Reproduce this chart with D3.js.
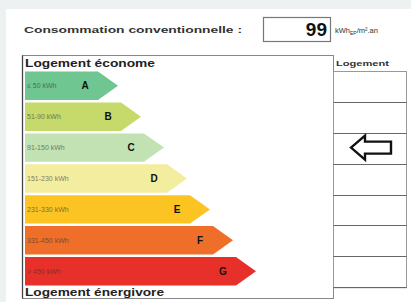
<!DOCTYPE html>
<meta charset="utf-8">
<script src="https://d3js.org/d3.v7.min.js"></script>
<style>
  body { margin: 0; background: #eef1f2; }
  text { font-family: "Liberation Sans", Arial, sans-serif; }
</style>
<div id="chart"></div>
<script>
// energy classes (DPE)
var classes = ["A", "B", "C", "D", "E", "F", "G"];
var ranges = ["≤ 50 kWh", "51-90 kWh", "91-150 kWh", "151-230 kWh", "231-330 kWh", "331-450 kWh", "> 450 kWh"];
var colors = ["#6fc691", "#c6da6c", "#c2e2b4", "#f3eda0", "#fcc423", "#ee6e2a", "#e8302a"];
var thresholds = [50, 90, 150, 230, 330, 450];
var value = 99;

var W = 411, H = 302;
var svg = d3.select("#chart").append("svg")
    .attr("width", W).attr("height", H);

// white sheet
svg.append("rect").attr("x", 6).attr("y", 9).attr("width", W - 6).attr("height", H - 9).attr("fill", "#fff");

// header
svg.append("text").attr("x", 24).attr("y", 33)
    .attr("font-size", 9).attr("font-weight", "bold").attr("fill", "#333")
    .attr("textLength", 218).attr("lengthAdjust", "spacingAndGlyphs")
    .text("Consommation conventionnelle :");
svg.append("rect").attr("x", 263.5).attr("y", 17.5).attr("width", 67).attr("height", 24)
    .attr("fill", "#fff").attr("stroke", "#777").attr("stroke-width", 1.2);
svg.append("text").attr("x", 327).attr("y", 36).attr("text-anchor", "end")
    .attr("font-size", 19).attr("font-weight", "bold").attr("fill", "#111")
    .text(value);
var unit = svg.append("text").attr("x", 335).attr("y", 33).attr("font-size", 7.5).attr("fill", "#333");
unit.append("tspan").text("kWh");
unit.append("tspan").attr("font-size", 5).attr("dy", 2).text("EP");
unit.append("tspan").attr("dy", -2).text("/m².an");

// main box
svg.append("rect").attr("x", 22.5).attr("y", 55.5).attr("width", 311).attr("height", 243)
    .attr("fill", "none").attr("stroke", "#888");
svg.append("line").attr("x1", 22.5).attr("x2", 22.5).attr("y1", 55.5).attr("y2", 298.5)
    .attr("stroke", "#444").attr("stroke-width", 1.3);

svg.append("text").attr("x", 25).attr("y", 67)
    .attr("font-size", 11).attr("font-weight", "bold").attr("fill", "#222")
    .attr("textLength", 130).attr("lengthAdjust", "spacingAndGlyphs")
    .text("Logement économe");
svg.append("text").attr("x", 25).attr("y", 296)
    .attr("font-size", 11).attr("font-weight", "bold").attr("fill", "#222")
    .attr("textLength", 139).attr("lengthAdjust", "spacingAndGlyphs")
    .text("Logement énergivore");

// scales
var y = d3.scaleBand().domain(classes).range([71, 286]).paddingInner(0.08).paddingOuter(0.02);
var tip = d3.scaleLinear().domain([0, classes.length - 1]).range([118, 256]);
var point = 20;

var bars = svg.append("g").selectAll("g")
  .data(classes)
  .join("g");

bars.append("path")
    .attr("fill", (d, i) => colors[i])
    .attr("d", function(d, i) {
      var x0 = 25, y0 = y(d), h = y.bandwidth(), xt = tip(i);
      return "M" + x0 + "," + y0 + "H" + (xt - point) + "L" + xt + "," + (y0 + h / 2) +
             "L" + (xt - point) + "," + (y0 + h) + "H" + x0 + "Z";
    });

bars.append("text")
    .attr("x", 27).attr("y", d => y(d) + y.bandwidth() / 2 + 2.5)
    .attr("font-size", 7).attr("fill", "#333").attr("opacity", 0.6)
    .text((d, i) => ranges[i]);

bars.append("text")
    .attr("x", (d, i) => tip(i) - 33).attr("y", d => y(d) + y.bandwidth() / 2 + 3.5)
    .attr("text-anchor", "middle")
    .attr("font-size", 10).attr("font-weight", "bold").attr("fill", "#111")
    .text(d => d);

// right column
svg.append("text").attr("x", 336).attr("y", 66)
    .attr("font-size", 7).attr("font-weight", "bold").attr("fill", "#333")
    .attr("textLength", 53).attr("lengthAdjust", "spacingAndGlyphs")
    .text("Logement");

var top0 = y.range()[0], step = y.step();
svg.append("rect").attr("x", 333.5).attr("y", top0 + 0.5).attr("width", 73).attr("height", step * classes.length)
    .attr("fill", "none").attr("stroke", "#999");
svg.append("g").selectAll("line")
  .data(d3.range(1, classes.length + 1))
  .join("line")
    .attr("x1", 333.5).attr("x2", 406.5)
    .attr("y1", i => Math.round(top0 + i * step) + 0.5)
    .attr("y2", i => Math.round(top0 + i * step) + 0.5)
    .attr("stroke", "#666").attr("stroke-width", 1.2);

// arrow for the current class
var cls = classes[d3.bisectLeft(thresholds, value)];
var cy = y(cls) + y.bandwidth() / 2;
svg.append("path")
    .attr("fill", "#fff").attr("stroke", "#111").attr("stroke-width", 2.4)
    .attr("stroke-linejoin", "miter")
    .attr("d", "M351," + cy + "L365," + (cy - 12) + "V" + (cy - 6) + "H391V" + (cy + 6) +
               "H365V" + (cy + 12) + "Z");
</script>
